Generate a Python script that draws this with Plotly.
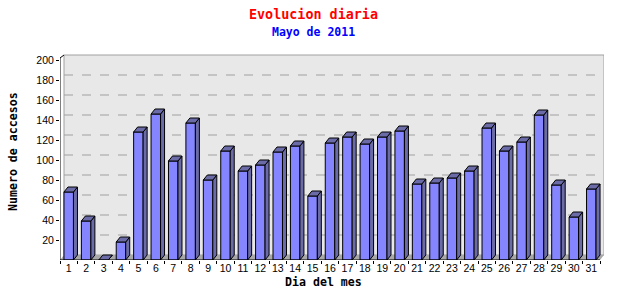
import plotly.graph_objects as go

days = list(range(1, 32))
day_labels = [str(d) for d in days]
visits = [68, 39, 0, 18, 128, 146, 99, 137, 80, 109, 89, 95, 108, 114, 64,
          117, 123, 116, 123, 129, 76, 77, 82, 89, 132, 109, 118, 145, 75, 43, 71]
y_ticks = [20, 40, 60, 80, 100, 120, 140, 160, 180, 200]
grid_vals = [20, 40, 60, 80, 100, 120, 140, 160, 180]

title = "Evolucion diaria"
subtitle = "Mayo de 2011"
x_title = "Dia del mes"
y_title = "Numero de accesos"

# geometry / style
W, H = 640, 300
L, R, T, B = 60, 36, 53, 40
PW, PH = W - L - R, H - T - B
unit_px = 540 / 31.0
XR = [0.5, 0.5 + PW / unit_px]
YR = [0, PH]
DX = 4 / unit_px   # depth offset in x units
DY = 5             # depth offset in y units
HW = 0.2725

FRONT = "#8585ff"
SIDE = "#6b6ba8"

def px(xp):
    return (xp - L) / PW

def py(yp):
    return (H - B - yp) / PH

side_x, side_y, top_x, top_y = [], [], [], []
for d, v in zip(days, visits):
    r = d + HW
    l = d - HW
    side_x += [r, r + DX, r + DX, r, r, None]
    side_y += [0, DY, v + DY, v, 0, None]
    top_x += [l, l + DX, r + DX, r, l, None]
    top_y += [v, v + DY, v + DY, v, v, None]

fig = go.Figure()
fig.add_trace(go.Bar(x=days, y=visits, width=2 * HW,
                     marker=dict(color=FRONT, line=dict(color="black", width=1)),
                     hoverinfo="skip"))
fig.add_trace(go.Scatter(x=side_x, y=side_y, fill="toself", fillcolor=SIDE,
                         mode="lines", line=dict(color="black", width=1),
                         hoverinfo="skip"))
fig.add_trace(go.Scatter(x=top_x, y=top_y, fill="toself", fillcolor=SIDE,
                         mode="lines", line=dict(color="black", width=1),
                         hoverinfo="skip"))
fig.add_trace(go.Scatter(x=[1], y=[0], xaxis="x2", mode="markers",
                         marker=dict(opacity=0), hoverinfo="skip"))

shapes = []
# back wall
shapes.append(dict(type="rect", xref="x", yref="y", layer="below",
                   x0=0.5 + DX, x1=31.5 + DX, y0=DY, y1=200 + DY,
                   fillcolor="#e8e8e8", line=dict(color="#a0a0a0", width=1)))
# gridlines on back wall
for g in grid_vals:
    shapes.append(dict(type="line", xref="x", yref="y", layer="below",
                       x0=0.5 + DX, x1=31.5 + DX, y0=g + DY, y1=g + DY,
                       line=dict(color="#a0a0a0", width=1, dash="dash")))
# floor
shapes.append(dict(type="path", xref="x", yref="y", layer="below",
                   path=f"M 0.5,0 L 31.5,0 L {31.5 + DX},{DY} L {0.5 + DX},{DY} Z",
                   fillcolor="#a8a8a8", line=dict(width=0)))
# axes lines
shapes.append(dict(type="line", xref="x", yref="y", x0=0.5, x1=31.5, y0=0, y1=0,
                   line=dict(color="black", width=1)))
shapes.append(dict(type="path", xref="x", yref="y",
                   path=f"M 0.5,0 L 0.5,202 L {0.5 + DX},{200 + DY}",
                   line=dict(color="black", width=1)))

annotations = [
    dict(text=title, x=px(313), y=py(14), xref="paper", yref="paper",
         showarrow=False, xanchor="center", yanchor="middle",
         font=dict(family="DejaVu Sans Mono", size=13.4, color="#ff0000", weight="bold")),
    dict(text=subtitle, x=px(313), y=py(32), xref="paper", yref="paper",
         showarrow=False, xanchor="center", yanchor="middle",
         font=dict(family="DejaVu Sans Mono", size=11.5, color="#0000ff", weight="bold")),
    dict(text=x_title, x=px(323), y=py(282), xref="paper", yref="paper",
         showarrow=False, xanchor="center", yanchor="middle",
         font=dict(family="DejaVu Sans Mono", size=11.6, color="black", weight="bold")),
    dict(text=y_title, x=px(13), y=py(152), xref="paper", yref="paper",
         showarrow=False, xanchor="center", yanchor="middle", textangle=-90,
         font=dict(family="DejaVu Sans Mono", size=11.6, color="black", weight="bold")),
]

fig.update_layout(
    width=W, height=H,
    margin=dict(l=L, r=R, t=T, b=B, pad=0),
    paper_bgcolor="white", plot_bgcolor="white",
    showlegend=False,
    barmode="overlay",
    shapes=shapes,
    annotations=annotations,
    xaxis=dict(range=XR, tickvals=[d - 0.5 for d in days] + [31.5],
               ticktext=[""] * 32, ticks="outside", ticklen=3, tickcolor="black",
               showgrid=False, zeroline=False, showline=False, fixedrange=True),
    xaxis2=dict(range=XR, overlaying="x", side="bottom", anchor="y",
                tickvals=days, ticktext=day_labels, ticks="", showgrid=False,
                zeroline=False, showline=False,
                tickfont=dict(family="Liberation Sans", size=10.5, color="black")),
    yaxis=dict(range=YR, tickvals=y_ticks, ticktext=[str(v) for v in y_ticks],
               ticks="outside", ticklen=3, tickcolor="black", showgrid=False,
               zeroline=False, showline=False, fixedrange=True,
               tickfont=dict(family="Liberation Sans", size=10.5, color="black")),
)

fig.write_html("out.html")
